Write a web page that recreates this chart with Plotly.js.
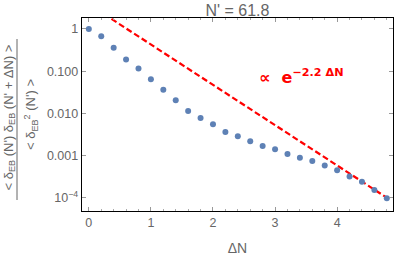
<!DOCTYPE html>
<html>
<head>
<meta charset="utf-8">
<script src="https://cdn.plot.ly/plotly-3.0.1.min.js"></script>
<style>html,body{margin:0;padding:0;background:#fff;}#chart{width:399px;height:257px;}</style>
</head>
<body>
<div id="chart"></div>
<script>
const deltaN = [0, 0.2, 0.4, 0.6, 0.8, 1.0, 1.2, 1.4, 1.6, 1.8, 2.0, 2.2, 2.4, 2.6, 2.8, 3.0, 3.2, 3.4, 3.6, 3.8, 4.0, 4.2, 4.4, 4.6, 4.8];
const correlation = [1.0, 0.67, 0.36, 0.19, 0.115, 0.064, 0.036, 0.0204, 0.0114, 0.0078, 0.0055, 0.0036, 0.00287, 0.00218, 0.00169, 0.00141, 0.00109, 0.00089, 0.00074, 0.00058, 0.00045, 0.00032, 0.00024, 0.000153, 0.0000973];
const fitAmplitude = 3.86;
const fitRate = 2.2;
const fitX = [0, 0.5, 1, 1.5, 2, 2.5, 3, 3.5, 4, 4.5, 4.8];
const fitY = fitX.map(x => fitAmplitude * Math.exp(-fitRate * x));
const yTickVals = [1, 0.1, 0.01, 0.001, 0.0001];
const yTickText = ['1', '0.100', '0.010', '0.001', '10<sup>−4</sup>'];
const xTickVals = [0, 1, 2, 3, 4];

const gray = '#666666';
const font = 'Liberation Sans, Arial, sans-serif';

const data = [
  {x: fitX, y: fitY, type: 'scatter', mode: 'lines',
   line: {color: '#ff0000', width: 2.2, dash: '6px,3px'}, hoverinfo: 'skip'},
  {x: deltaN, y: correlation, type: 'scatter', mode: 'markers',
   marker: {color: '#5e81b5', size: 6}}
];

const layout = {
  width: 399, height: 257,
  margin: {l: 82, r: 6, t: 18, b: 46},
  paper_bgcolor: '#fff', plot_bgcolor: '#fff',
  showlegend: false,
  font: {family: font, color: gray, size: 12},
  title: {text: "N' = 61.8", x: 0.595, xanchor: 'center', yref: 'container', y: 1 - 10.5 / 257, yanchor: 'middle',
          font: {family: font, size: 16, color: gray}},
  xaxis: {
    range: [-0.11, 4.9], showgrid: false, zeroline: false,
    showline: true, linecolor: '#000', linewidth: 1.3, mirror: 'ticks',
    ticks: 'inside', ticklen: 4, tickcolor: '#999', tickvals: xTickVals,
    minor: {ticks: 'inside', ticklen: 2, tickcolor: '#aaa', dtick: 0.2, showgrid: false},
    tickfont: {size: 12.5, color: gray},
    title: {text: 'ΔN', font: {size: 14, color: gray}, standoff: 14}
  },
  yaxis: {
    type: 'log', range: [-4.315, 0.26], showgrid: false, zeroline: false,
    showline: true, linecolor: '#000', linewidth: 1.3, mirror: 'ticks',
    ticks: 'inside', ticklen: 4, tickcolor: '#999',
    tickvals: yTickVals, ticktext: yTickText,
    tickfont: {size: 12.5, color: gray}
  },
  annotations: [
    {x: 3.43, y: -1.13, xref: 'x', yref: 'y', showarrow: false,
     text: '∝  e<sup>−2.2 ΔN</sup>', font: {family: 'DejaVu Sans, sans-serif', size: 16, color: '#ff0000', weight: 'bold'}},
    {x: 8.5, y: 118, xref: 'paper', yref: 'paper', xanchor: 'center', yanchor: 'middle', showarrow: false, textangle: -90,
     text: '< δ<sub>EB</sub> (N\') δ<sub>EB</sub> (N\' + ΔN) >', font: {size: 13, color: gray}},
    {x: 31, y: 115, xref: 'paper', yref: 'paper', xanchor: 'center', yanchor: 'middle', showarrow: false, textangle: -90,
     text: '< δ<sub>EB</sub><sup>2</sup> (N\') >', font: {size: 13, color: gray}}
  ],
  shapes: []
};

// convert pixel coordinates for the y-title annotations into paper units
const plotW = 399 - 82 - 6, plotH = 257 - 18 - 46;
layout.annotations.forEach((a, i) => {
  if (i > 0) {
    a.x = (a.x - 82) / plotW;
    a.y = (257 - 46 - a.y) / plotH;
  }
});
layout.shapes.push({type: 'line', xref: 'paper', yref: 'paper',
  x0: (17 - 82) / plotW, x1: (17 - 82) / plotW,
  y0: (257 - 46 - 39) / plotH, y1: (257 - 46 - 200) / plotH,
  line: {color: gray, width: 1}});

Plotly.newPlot('chart', data, layout, {displayModeBar: false, staticPlot: true});
</script>
</body>
</html>
